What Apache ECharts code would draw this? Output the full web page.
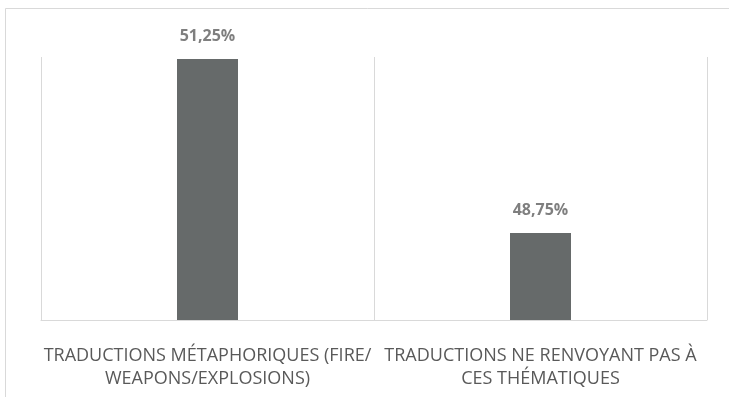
<!DOCTYPE html>
<html>
<head>
<meta charset="utf-8">
<script src="https://cdn.jsdelivr.net/npm/echarts@6/dist/echarts.min.js"></script>
<style>
  html, body { margin: 0; padding: 0; background: #ffffff; }
  #chart { width: 729px; height: 397px; }
</style>
</head>
<body>
<div id="chart"></div>
<script>
// Category names (line breaks as they wrap under each bar)
const categories = [
  'TRADUCTIONS MÉTAPHORIQUES (FIRE/\nWEAPONS/EXPLOSIONS)',
  'TRADUCTIONS NE RENVOYANT PAS À\nCES THÉMATIQUES'
];
// Share of translations, in percent
const shares = [51.25, 48.75];

const chart = echarts.init(document.getElementById('chart'));

const fontFamily = '"Open Sans", sans-serif';

chart.setOption({
  animation: false,
  backgroundColor: '#ffffff',
  // Frame around the chart area
  graphic: [{
    type: 'rect',
    shape: { x: 5.5, y: 8.5, width: 900, height: 600 },
    style: { fill: 'none', stroke: '#d9d9d9', lineWidth: 1 },
    silent: true
  }],
  grid: { left: 41, right: 22, top: 57, bottom: 77 },
  xAxis: {
    type: 'category',
    data: categories,
    boundaryGap: true,
    axisLine: { show: true, lineStyle: { color: '#d9d9d9', width: 1 } },
    axisTick: { show: false },
    splitLine: { show: true, lineStyle: { color: '#d9d9d9', width: 1 } },
    axisLabel: {
      interval: 0,
      margin: 24,
      color: '#595959',
      fontFamily: fontFamily,
      fontSize: 18,
      lineHeight: 23,
      align: 'center'
    }
  },
  yAxis: {
    type: 'value',
    min: 47.5,
    max: 51.28,
    show: false,
    splitLine: { show: false }
  },
  series: [{
    type: 'bar',
    data: shares,
    barWidth: 61,
    itemStyle: { color: '#666a6a' },
    label: {
      show: true,
      position: 'top',
      distance: 15,
      color: '#7f7f7f',
      fontFamily: fontFamily,
      fontSize: 16,
      fontWeight: 'bold',
      formatter: p => p.value.toFixed(2).replace('.', ',') + '%'
    }
  }]
});
</script>
</body>
</html>
